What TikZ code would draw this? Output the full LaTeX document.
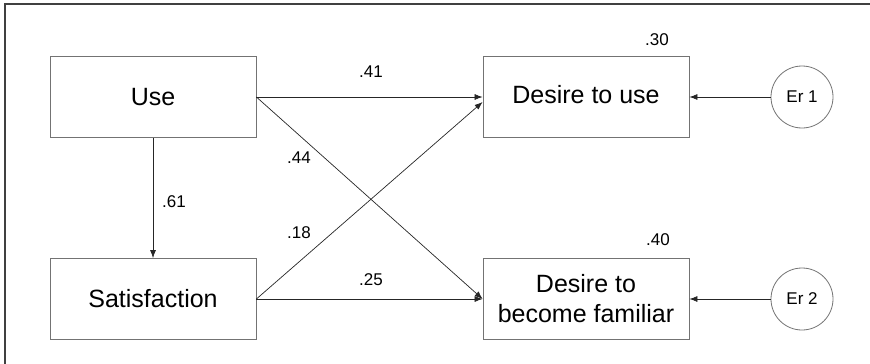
\documentclass[tikz,border=0pt]{standalone}
\usepackage{fontspec}
\setmainfont{Liberation Sans}
\usetikzlibrary{arrows.meta}

\begin{document}
\begin{tikzpicture}[x=1pt,y=-1pt,
  box/.style={draw=black!55,line width=0.8pt,minimum width=206pt,minimum height=81pt,
    inner sep=0pt,align=center,font=\fontsize{25}{30}\selectfont},
  err/.style={circle,draw=black!55,line width=0.8pt,minimum size=62pt,inner sep=0pt,
    font=\fontsize{17}{20}\selectfont},
  coef/.style={font=\fontsize{17}{20}\selectfont},
  arr/.style={-{Latex[length=8pt,width=6pt]},line width=0.7pt,black!85}]
  \useasboundingbox (0,0) rectangle (870,364);

  \draw[line width=1.5pt,black!75] (5,364) -- (5,4) -- (870,4);

  \coordinate (u)  at (153,97);
  \coordinate (s)  at (153,299);
  \coordinate (d1) at (586,97);
  \coordinate (d2) at (586,299);
  \coordinate (e1) at (802,97);
  \coordinate (e2) at (802,299);

  \node[box] (use)  at (u)  {Use};
  \node[box] (sat)  at (s)  {Satisfaction};
  \node[box] (dtu)  at (d1) {\raisebox{5pt}{Desire to use}};
  \node[box] (dbf)  at (d2) {Desire to\\become familiar};

  \node[err] (er1) at (e1) {Er 1};
  \node[err] (er2) at (e2) {Er 2};

  \draw[arr] (use) -- (sat);
  \draw[arr] (use.east) -- (dtu.west);
  \draw[arr] (use.east) -- (dbf.west);
  \draw[arr] (sat.east) -- ([yshift=-5pt]dtu.west);
  \draw[arr] (sat.east) -- (dbf.west);
  \draw[arr] (er1) -- (dtu);
  \draw[arr] (er2) -- (dbf);

  \node[coef] at (174,202) {.61};
  \node[coef] at (371,72)  {.41};
  \node[coef] at (299,158) {.44};
  \node[coef] at (299,233) {.18};
  \node[coef] at (371,280) {.25};
  \node[coef] at (657,40)  {.30};
  \node[coef] at (658,240) {.40};
\end{tikzpicture}
\end{document}
